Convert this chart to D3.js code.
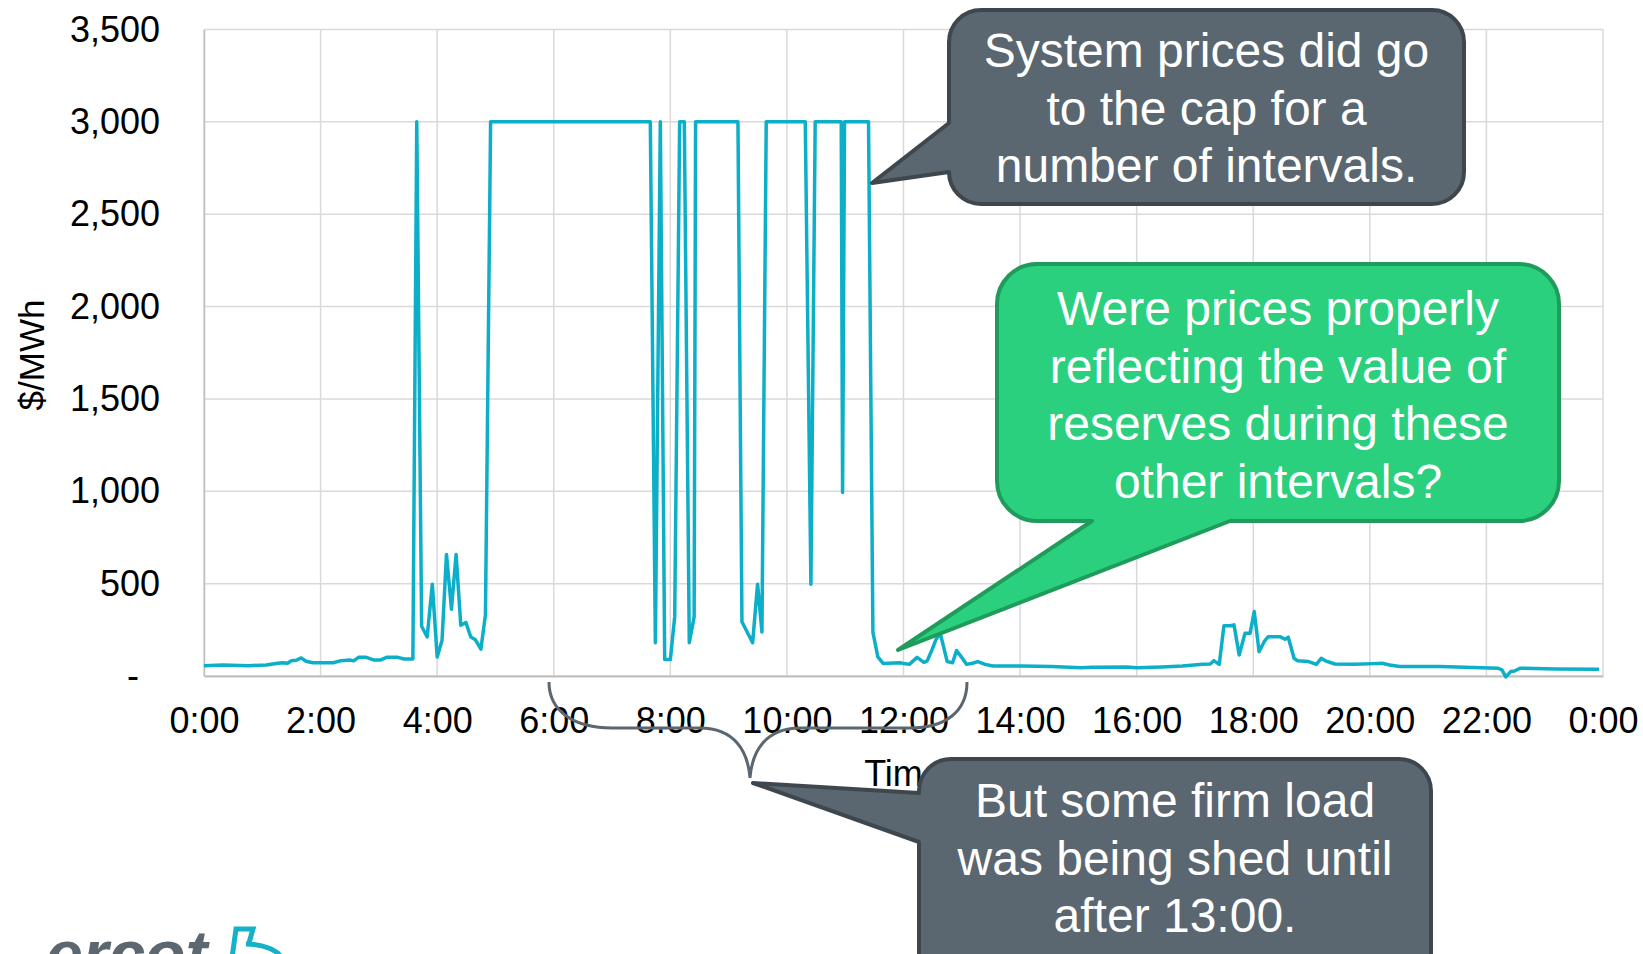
<!DOCTYPE html>
<html>
<head>
<meta charset="utf-8">
<script src="https://cdn.jsdelivr.net/npm/d3@7"></script>
<style>
  html, body { margin: 0; padding: 0; background: #ffffff; }
  svg { display: block; }
</style>
</head>
<body>
<div id="chart"></div>
<script>
const W = 1643;
const H = 954;

// price trace: minutes after midnight and $/MWh
const minutes = [
  0, 19.5, 47, 64, 76, 81, 86, 90, 95, 100, 105, 112, 133, 141, 150, 154, 159, 167, 174.5, 182, 188, 199.5, 206, 215,
  219, 224, 229.7, 235, 240, 245, 249.6, 254.7, 259.5, 264.3, 269.5, 274.6, 279.4, 285, 289.7, 295,
  459.4, 464.6, 469.7, 474.2, 480, 484.5, 489.6, 494.4, 499.5, 504.5, 506,
  549.6, 553.7, 564.7, 569.8, 574.3, 578.7, 618.9, 624.7, 629.1, 655.9, 657.3, 659.3, 684, 688.5, 693.6, 699,
  715.8, 726, 734, 741, 744.4, 749.6, 753.3, 757.8, 765, 770.5, 774.6, 779.3, 785, 791, 796.5, 804, 812,
  841, 872, 903, 913.5, 950, 960, 986, 1007, 1028, 1035.7, 1039.4, 1045, 1049.8, 1056.5, 1060.2, 1065.5,
  1071.5, 1076.7, 1081, 1086, 1091.4, 1095.5, 1107.5, 1112.7, 1116, 1122, 1125.7, 1137, 1145, 1150, 1154.3,
  1164, 1184, 1205, 1212.6, 1220.4, 1230.8, 1272, 1332, 1336, 1340, 1345, 1349, 1354.5, 1392, 1436
];
const prices = [
  56, 60, 56, 60, 69, 72, 69, 83, 85, 98, 80, 72, 72, 83, 87, 82, 101, 101, 87, 87, 101, 101, 92, 92,
  3000, 269, 211, 497, 103, 192, 658, 362, 658, 275, 290, 211, 196, 145, 331, 3000,
  3000, 180, 3000, 89, 89, 320, 3000, 3000, 180, 320, 3000,
  3000, 294, 180, 497, 238, 3000, 3000, 497, 3000, 3000, 993, 3000, 3000, 238, 103, 68,
  72, 63, 101, 74, 82, 145, 196, 232, 78, 72, 138, 105, 63, 69, 78, 63, 54,
  54, 51, 45, 47, 49, 45, 49, 54, 63, 65, 83, 63, 272, 272, 277, 114,
  231, 231, 349, 132, 187, 213, 213, 199, 210, 96, 82, 78, 63, 96, 82,
  65, 63, 67, 69, 60, 51, 51, 42, 33, -5, 24, 27, 42, 38, 36
];

const xTicks = [0, 120, 240, 360, 480, 600, 720, 840, 960, 1080, 1200, 1320, 1440];
const yTicks = [0, 500, 1000, 1500, 2000, 2500, 3000, 3500];

const notes = [
  ["System prices did go", "to the cap for a", "number of intervals."],
  ["Were prices properly", "reflecting the value of", "reserves during these", "other intervals?"],
  ["But some firm load", "was being shed until", "after 13:00."]
];

const font = "'Liberation Sans', Arial, sans-serif";
const lineCol = "#0cafc7";
const gridCol = "#d9d9d9";
const slate = "#5a6670";
const slateDark = "#3f474e";
const green = "#2bd07e";
const greenDark = "#1f9c5b";

const plot = { left: 204, right: 1603, top: 29.5, bottom: 676 };

const svg = d3.select("#chart").append("svg")
  .attr("width", W).attr("height", H)
  .style("background", "#ffffff");

const x = d3.scaleLinear().domain([0, 1440]).range([plot.left, plot.right]);
const y = d3.scaleLinear().domain([0, 3500]).range([plot.bottom, plot.top]);

// grid
const grid = svg.append("g");
grid.selectAll(".gy").data(yTicks).join("line")
  .attr("x1", plot.left).attr("x2", plot.right)
  .attr("y1", d => y(d)).attr("y2", d => y(d))
  .attr("stroke", gridCol).attr("stroke-width", 1.5);
grid.selectAll(".gx").data(xTicks).join("line")
  .attr("x1", d => x(d)).attr("x2", d => x(d))
  .attr("y1", plot.top).attr("y2", plot.bottom)
  .attr("stroke", gridCol).attr("stroke-width", 1.5);

// axes
const yAxis = svg.append("g")
  .attr("transform", `translate(${plot.left},0)`)
  .call(d3.axisLeft(y).tickValues(yTicks).tickSize(0).tickPadding(44)
    .tickFormat(d => d === 0 ? "-" : d3.format(",")(d)));
yAxis.select(".domain").attr("stroke", "#bfbfbf").attr("stroke-width", 1.5);
yAxis.selectAll("text")
  .attr("font-family", font).attr("font-size", 36).attr("fill", "#000")
  .attr("dx", d => d === 0 ? -21 : 0);

const xAxis = svg.append("g")
  .attr("transform", `translate(0,${plot.bottom})`)
  .call(d3.axisBottom(x).tickValues(xTicks).tickSize(0).tickPadding(31)
    .tickFormat(d => `${(d / 60) % 24}:00`));
xAxis.select(".domain").attr("stroke", "#bfbfbf").attr("stroke-width", 2);
xAxis.selectAll("text")
  .attr("font-family", font).attr("font-size", 36).attr("fill", "#000");

svg.append("text")
  .attr("transform", "translate(44,355) rotate(-90)")
  .attr("text-anchor", "middle")
  .attr("font-family", font).attr("font-size", 35).attr("fill", "#000")
  .text("$/MWh");

svg.append("text")
  .attr("x", (plot.left + plot.right) / 2).attr("y", 786)
  .attr("text-anchor", "middle")
  .attr("font-family", font).attr("font-size", 36).attr("fill", "#000")
  .text("Time");

// price line
const pts = minutes.map((m, i) => [m, prices[i]]);
svg.append("path")
  .datum(pts)
  .attr("fill", "none")
  .attr("stroke", lineCol).attr("stroke-width", 3.5)
  .attr("stroke-linejoin", "round")
  .attr("d", d3.line().x(d => x(d[0])).y(d => y(d[1])));

// brace under the load-shed hours
const brace = d3.path();
brace.moveTo(549, 682);
brace.bezierCurveTo(549, 712, 575, 728, 612, 728);
brace.lineTo(700, 728);
brace.bezierCurveTo(735, 728, 748, 752, 750, 778);
brace.bezierCurveTo(752, 752, 765, 728, 800, 728);
brace.lineTo(910, 728);
brace.bezierCurveTo(945, 728, 967, 712, 967, 682);
svg.append("path").attr("d", brace.toString())
  .attr("fill", "none").attr("stroke", slate).attr("stroke-width", 3);

// callout shapes
function bubble(b) {
  const { x0, y0, x1, y1, r } = b;
  const p = d3.path();
  p.moveTo(x0 + r, y0);
  p.lineTo(x1 - r, y0);
  p.arcTo(x1, y0, x1, y0 + r, r);
  p.lineTo(x1, y1 - r);
  p.arcTo(x1, y1, x1 - r, y1, r);
  if (b.side === "bottom") {
    p.lineTo(b.a, y1);
    p.lineTo(b.tip[0], b.tip[1]);
    p.lineTo(b.b, y1);
  }
  p.lineTo(x0 + r, y1);
  p.arcTo(x0, y1, x0, y1 - r, r);
  if (b.side === "left") {
    p.lineTo(x0, b.b);
    p.lineTo(b.tip[0], b.tip[1]);
    p.lineTo(x0, b.a);
  }
  p.lineTo(x0, y0 + r);
  p.arcTo(x0, y0, x0 + r, y0, r);
  p.closePath();
  return p.toString();
}

const bubbles = [
  { x0: 949, y0: 10, x1: 1464, y1: 204, r: 32, side: "left", a: 123, b: 172, tip: [872, 183],
    fill: slate, stroke: slateDark, lines: notes[0], base: 67 },
  { x0: 997, y0: 264, x1: 1559, y1: 521, r: 40, side: "bottom", a: 1230, b: 1092, tip: [898, 650],
    fill: green, stroke: greenDark, lines: notes[1], base: 325 },
  { x0: 919, y0: 759, x1: 1431, y1: 990, r: 32, side: "left", a: 793, b: 842, tip: [753, 783],
    fill: slate, stroke: slateDark, lines: notes[2], base: 817 }
];

bubbles.forEach(b => {
  const g = svg.append("g");
  g.append("path").attr("d", bubble(b))
    .attr("fill", b.fill).attr("stroke", b.stroke)
    .attr("stroke-width", 4).attr("stroke-linejoin", "round");
  g.selectAll("text").data(b.lines).join("text")
    .attr("x", (b.x0 + b.x1) / 2)
    .attr("y", (d, i) => b.base + i * 57.5)
    .attr("text-anchor", "middle")
    .attr("font-family", font).attr("font-size", 48).attr("fill", "#ffffff")
    .text(d => d);
});

// logo, cut off at the bottom edge
svg.append("text")
  .attr("x", 46).attr("y", 977)
  .attr("font-family", font).attr("font-size", 66)
  .attr("font-weight", "bold").attr("font-style", "italic")
  .attr("fill", "#5d6770")
  .text("ercot");
svg.append("path")
  .attr("d", "M232,958 L236,929 L253,929 L249,943 M246,944 C262,944 280,950 282,960")
  .attr("fill", "none").attr("stroke", "#14b1c9").attr("stroke-width", 5);
</script>
</body>
</html>
